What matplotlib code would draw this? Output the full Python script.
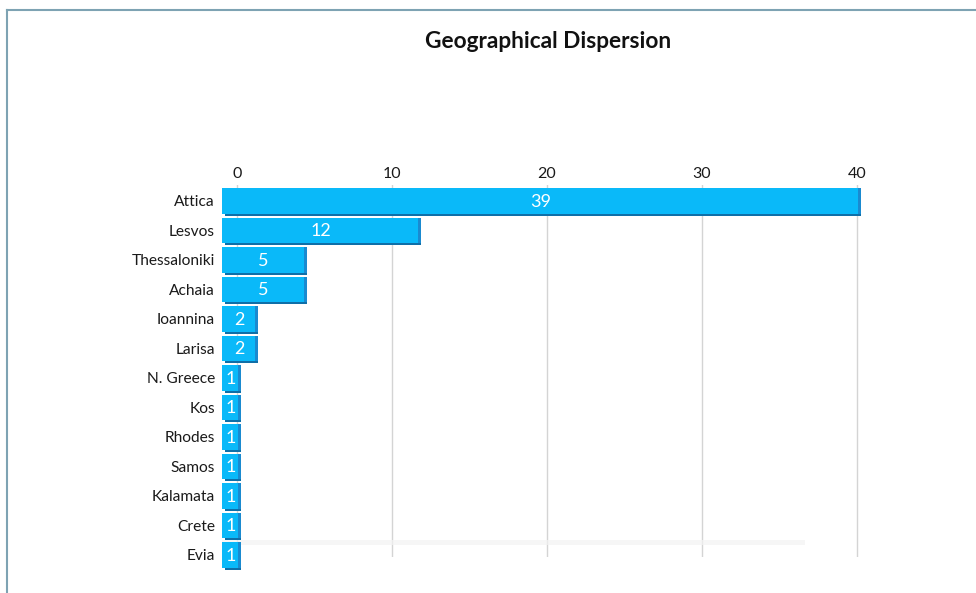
import matplotlib
matplotlib.use("Agg")
import matplotlib.pyplot as plt
from matplotlib.transforms import ScaledTranslation
from matplotlib.lines import Line2D

# Number of entries per region
regions = ["Attica", "Lesvos", "Thessaloniki", "Achaia", "Ioannina", "Larisa",
           "N. Greece", "Kos", "Rhodes", "Samos", "Kalamata", "Crete", "Evia"]
counts = [39, 12, 5, 5, 2, 2, 1, 1, 1, 1, 1, 1, 1]
axis_ticks = [0, 10, 20, 30, 40]

plt.rcParams["font.family"] = ["Lato", "DejaVu Sans"]

W, H, DPI = 976, 593, 100
fig = plt.figure(figsize=(W / DPI, H / DPI), dpi=DPI)

# axes box in pixels
left_px, right_px, top_px, bottom_px = 222, 870, 185, 557
ax = fig.add_axes([left_px / W, 1 - bottom_px / H,
                   (right_px - left_px) / W, (bottom_px - top_px) / H])

px_per_unit = 16.31
ax.set_xlim(0, (right_px - left_px) / px_per_unit)
ax.set_ylim(12.068, -0.542)

ypos = list(range(len(regions)))
bar_h = 0.87

# depth faces: shadow offset down/right
side = ax.transData + ScaledTranslation(3.0 / DPI, -2.0 / DPI, fig.dpi_scale_trans)
ax.barh(ypos, counts, height=bar_h, color="#0f6fa8", transform=side,
        clip_on=False, zorder=3)
side2 = ax.transData + ScaledTranslation(3.0 / DPI, 0, fig.dpi_scale_trans)
ax.barh(ypos, counts, height=bar_h, color="#1a8ad0", transform=side2,
        clip_on=False, zorder=3)
ax.barh(ypos, counts, height=bar_h, color="#0ab9f9", clip_on=False, zorder=4)

for y, v in zip(ypos, counts):
    ax.text(v / 2 + 0.05, y + 0.03, str(v), color="white", fontsize=13,
            ha="center", va="center", zorder=6, clip_on=False)

ax.set_yticks(ypos)
ax.set_yticklabels(regions, fontsize=11.2, color="#1a1a1a")
ax.tick_params(axis="y", length=0, pad=5)
ax.set_xticks([])
for s in ax.spines.values():
    s.set_visible(False)
ax.patch.set_alpha(0)

# floor shading
ax.axhspan(11.5, 11.65, xmin=0.0, xmax=0.9, color="#f3f3f3", alpha=0.7,
           zorder=1, linewidth=0)

# value scale with gridlines along the top
ax2 = ax.twiny()
ax2.set_zorder(ax.get_zorder() - 1)
ax.set_zorder(ax2.get_zorder() + 1)
u = 15.5
ax2.set_xlim(-(237 - left_px) / u, 40 + (right_px - 857) / u)
ax2.set_xticks(axis_ticks)
ax2.set_xticklabels([str(t) for t in axis_ticks], fontsize=11.5, color="#1a1a1a")
ax2.tick_params(axis="x", length=0, pad=3)
ax2.grid(axis="x", color="#d4d4d4", linewidth=1)
for s in ax2.spines.values():
    s.set_visible(False)

fig.text(548 / W, 1 - 41 / H, "Geographical Dispersion", fontsize=16.3,
         fontweight="bold", ha="center", va="center", color="#111111")

# frame lines
fig.add_artist(Line2D([7 / W, 1], [1 - 10 / H, 1 - 10 / H], color="#7ea3b3",
                      linewidth=1.5, transform=fig.transFigure))
fig.add_artist(Line2D([7 / W, 7 / W], [0, 1 - 10 / H], color="#7ea3b3",
                      linewidth=1.5, transform=fig.transFigure))

fig.savefig("out.png", dpi=DPI)
